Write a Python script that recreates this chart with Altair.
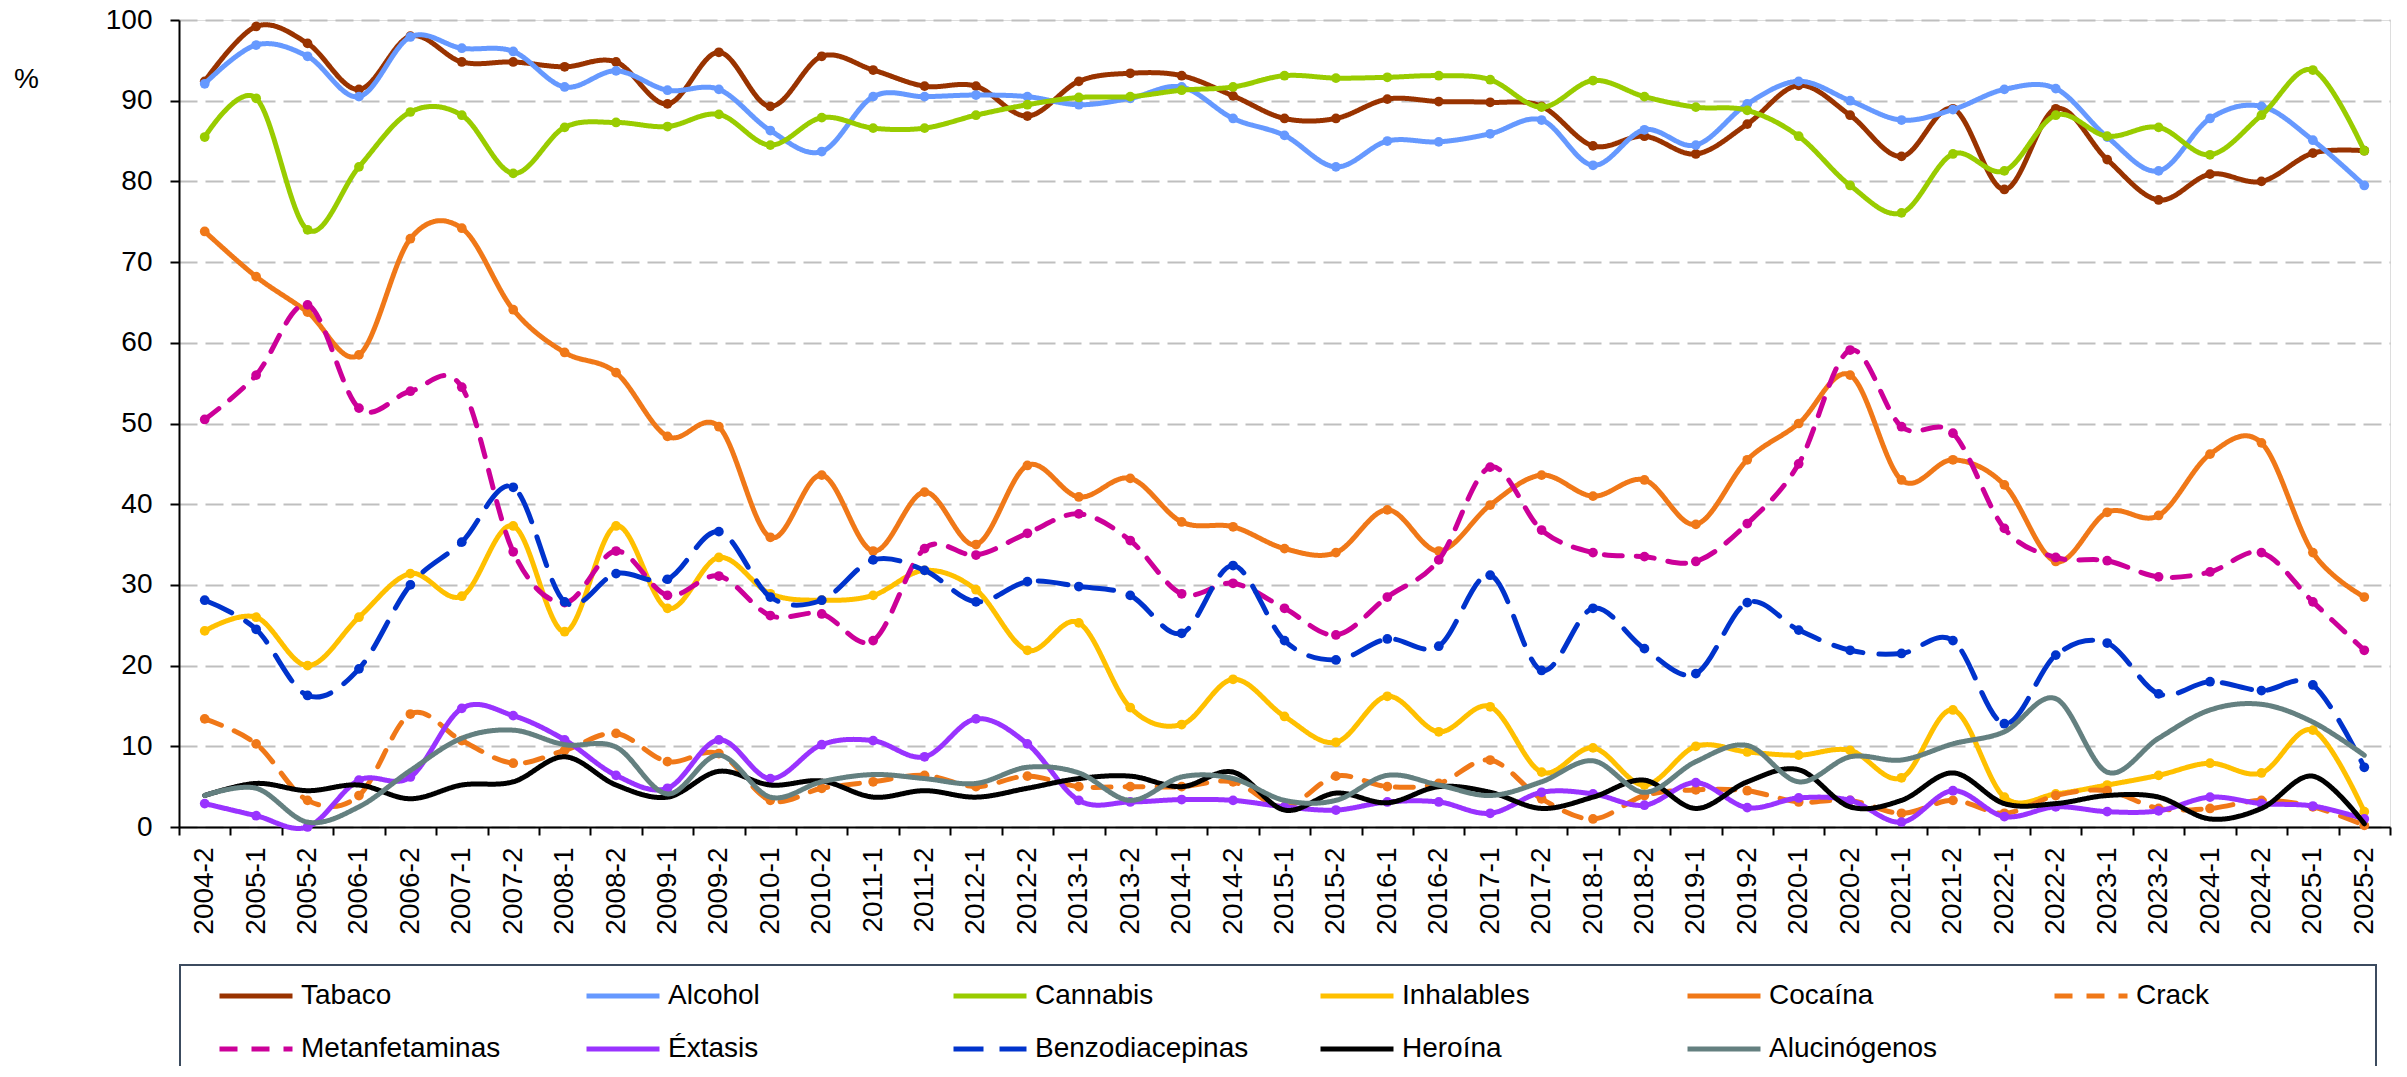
import altair as alt
import pandas as pd

periodos = ["2004-2", "2005-1", "2005-2", "2006-1", "2006-2", "2007-1", "2007-2", "2008-1", "2008-2",
            "2009-1", "2009-2", "2010-1", "2010-2", "2011-1", "2011-2", "2012-1", "2012-2", "2013-1",
            "2013-2", "2014-1", "2014-2", "2015-1", "2015-2", "2016-1", "2016-2", "2017-1", "2017-2",
            "2018-1", "2018-2", "2019-1", "2019-2", "2020-1", "2020-2", "2021-1", "2021-2", "2022-1",
            "2022-2", "2023-1", "2023-2", "2024-1", "2024-2", "2025-1", "2025-2"]

tabaco = [92.4, 99.2, 97.1, 91.4, 98.0, 94.8, 94.8, 94.2, 94.8, 89.6, 96.0, 89.3, 95.5, 93.8, 91.8,
          91.8, 88.1, 92.4, 93.4, 93.1, 90.6, 87.8, 87.8, 90.2, 89.9, 89.8, 89.3, 84.4, 85.6, 83.4,
          87.1, 91.9, 88.2, 83.1, 89.0, 79.0, 89.0, 82.7, 77.7, 80.9, 80.0, 83.5, 83.8]
alcohol = [92.1, 96.9, 95.5, 90.5, 97.9, 96.5, 96.1, 91.7, 93.7, 91.3, 91.4, 86.3, 83.7, 90.5, 90.5,
           90.7, 90.5, 89.5, 90.3, 91.7, 87.8, 85.7, 81.8, 85.0, 84.9, 85.9, 87.6, 82.0, 86.4, 84.5,
           89.6, 92.4, 90.0, 87.6, 88.9, 91.4, 91.5, 85.5, 81.3, 87.8, 89.3, 85.1, 79.5]
cannabis = [85.5, 90.3, 74.0, 81.8, 88.6, 88.2, 81.0, 86.7, 87.3, 86.8, 88.3, 84.5, 87.9, 86.6, 86.6,
            88.2, 89.5, 90.4, 90.5, 91.3, 91.7, 93.1, 92.8, 92.9, 93.1, 92.6, 89.2, 92.5, 90.5, 89.2,
            88.8, 85.6, 79.5, 76.1, 83.4, 81.3, 88.2, 85.6, 86.7, 83.3, 88.2, 93.8, 83.8]
inhalables = [24.3, 26.0, 20.0, 26.0, 31.4, 28.6, 37.3, 24.2, 37.3, 27.1, 33.4, 28.9, 28.1, 28.7, 31.8,
              29.4, 21.9, 25.3, 14.8, 12.7, 18.3, 13.7, 10.5, 16.2, 11.8, 14.9, 6.8, 9.8, 5.2, 10.0,
              9.3, 8.9, 9.5, 6.1, 14.5, 3.7, 4.1, 5.2, 6.4, 7.9, 6.7, 12.0, 1.9]
cocaina = [73.8, 68.2, 63.8, 58.5, 72.9, 74.2, 64.1, 58.8, 56.3, 48.4, 49.6, 35.9, 43.6, 34.2, 41.5,
           35.0, 44.8, 40.9, 43.2, 37.8, 37.2, 34.5, 34.0, 39.3, 34.2, 39.9, 43.6, 41.0, 43.0, 37.5,
           45.5, 50.0, 56.0, 43.0, 45.5, 42.4, 32.9, 39.0, 38.6, 46.2, 47.6, 34.0, 28.5]
crack = [13.4, 10.3, 3.3, 3.9, 14.0, 10.7, 7.9, 9.5, 11.6, 8.1, 9.1, 3.3, 4.8, 5.6, 6.4,
         5.0, 6.3, 5.0, 5.0, 5.0, 5.6, 2.5, 6.3, 5.0, 5.4, 8.3, 3.5, 1.0, 3.9, 4.6,
         4.5, 3.1, 3.3, 1.7, 3.3, 1.7, 3.9, 4.5, 2.3, 2.3, 3.3, 2.5, 0.2]
metanfetaminas = [50.5, 56.0, 64.7, 51.9, 54.0, 54.5, 34.1, 27.8, 34.2, 28.7, 31.1, 26.2, 26.4, 23.1, 34.5,
                  33.7, 36.4, 38.8, 35.5, 28.9, 30.2, 27.1, 23.8, 28.5, 33.1, 44.6, 36.8, 34.0, 33.5, 32.9,
                  37.6, 45.0, 59.1, 49.6, 48.8, 37.0, 33.4, 33.0, 31.0, 31.6, 34.0, 27.9, 21.9]
extasis = [2.9, 1.4, 0.0, 5.8, 6.2, 14.7, 13.8, 10.8, 6.4, 4.8, 10.8, 6.0, 10.2, 10.7, 8.7,
           13.4, 10.3, 3.3, 3.1, 3.4, 3.3, 2.5, 2.1, 3.1, 3.1, 1.7, 4.3, 4.1, 2.7, 5.5,
           2.4, 3.6, 3.3, 0.6, 4.5, 1.3, 2.5, 1.9, 2.0, 3.7, 2.9, 2.6, 1.0]
benzodiacepinas = [28.1, 24.5, 16.3, 19.6, 30.0, 35.3, 42.1, 27.9, 31.4, 30.7, 36.6, 28.5, 28.1, 33.1, 31.8,
                   27.9, 30.4, 29.8, 28.7, 24.0, 32.4, 23.1, 20.7, 23.3, 22.4, 31.2, 19.4, 27.1, 22.1, 19.0,
                   27.8, 24.4, 21.9, 21.5, 23.1, 12.8, 21.3, 22.8, 16.5, 18.0, 16.9, 17.6, 7.4]
heroina = [3.9, 5.4, 4.5, 5.2, 3.5, 5.2, 5.6, 8.7, 5.2, 3.7, 6.9, 5.2, 5.7, 3.7, 4.5,
           3.7, 4.8, 6.0, 6.3, 5.0, 6.8, 2.1, 4.2, 3.0, 5.0, 4.3, 2.3, 3.7, 5.8, 2.3,
           5.6, 7.1, 2.5, 3.3, 6.7, 2.9, 2.9, 3.9, 3.7, 1.0, 2.3, 6.3, 0.4]
alucinogenos = [3.9, 4.8, 0.6, 2.5, 7.0, 11.0, 12.0, 10.2, 9.9, 4.1, 8.9, 3.7, 5.6, 6.5, 6.0,
                5.4, 7.4, 6.7, 3.3, 6.2, 6.0, 3.3, 3.3, 6.4, 5.2, 3.9, 5.6, 8.2, 4.3, 8.1,
                10.1, 5.6, 8.7, 8.3, 10.3, 11.8, 15.9, 6.8, 11.0, 14.5, 15.2, 13.0, 8.9]

series = ["Tabaco", "Alcohol", "Cannabis", "Inhalables", "Cocaína", "Crack",
          "Metanfetaminas", "Éxtasis", "Benzodiacepinas", "Heroína", "Alucinógenos"]
valores = [tabaco, alcohol, cannabis, inhalables, cocaina, crack,
           metanfetaminas, extasis, benzodiacepinas, heroina, alucinogenos]
colores = ["#993300", "#6699FF", "#99CC00", "#FFC000", "#F07818", "#F07818",
           "#CC0099", "#9933FF", "#0033CC", "#000000", "#648080"]
trazos = [[1, 0], [1, 0], [1, 0], [1, 0], [1, 0], [18, 14],
          [18, 14], [1, 0], [30, 16], [1, 0], [1, 0]]
marcadores = [True, True, True, True, True, True, True, True, True, False, False]

filas = []
for s, vals in zip(series, valores):
    for p, v in zip(periodos, vals):
        filas.append({"Periodo": p, "Serie": s, "Valor": v})
df = pd.DataFrame(filas)

FONT = "Liberation Sans"

x_enc = alt.X("Periodo:O", sort=periodos,
              scale=alt.Scale(type="band", domain=periodos, paddingInner=0, paddingOuter=0),
              axis=alt.Axis(title=None, labelAngle=270, tickBand="extent", grid=False,
                            domainColor="#000000", domainWidth=2, tickColor="#000000",
                            tickWidth=2, tickSize=8, labelFontSize=28, labelPadding=12,
                            labelColor="#000000", labelFont=FONT))
y_enc = alt.Y("Valor:Q", scale=alt.Scale(domain=[0, 100], nice=False, zero=True),
              axis=alt.Axis(values=list(range(0, 101, 10)), title="%", titleAngle=0,
                            titleX=-153, titleY=59, titleAlign="center", titleBaseline="middle",
                            titleFontSize=28, titleFontWeight="normal", titleFont=FONT,
                            titleColor="#000000",
                            grid=True, gridColor="#BFBFBF", gridDash=[18, 8], gridWidth=2,
                            domainColor="#000000", domainWidth=2, tickColor="#000000",
                            tickWidth=2, tickSize=9, labelFontSize=28, labelPadding=18,
                            labelColor="#000000", labelFont=FONT))

leyenda = alt.Legend(title=None, orient="none", legendX=38, legendY=937, direction="horizontal",
                     columns=6, columnPadding=61, rowPadding=-19, gridAlign="all", padding=0,
                     symbolType="stroke", symbolSize=5329, symbolStrokeWidth=5,
                     labelFontSize=28, labelFont=FONT, labelColor="#000000", labelOffset=6,
                     labelLimit=500)

color_enc = alt.Color("Serie:N", scale=alt.Scale(domain=series, range=colores), legend=leyenda)
dash_enc = alt.StrokeDash("Serie:N", scale=alt.Scale(domain=series, range=trazos), legend=leyenda)

capas = []
for s, col, mk in zip(series, colores, marcadores):
    base = alt.Chart(df).transform_filter(alt.datum.Serie == s)
    linea = base.mark_line(interpolate="cardinal", strokeWidth=5, strokeCap="round",
                           strokeJoin="round").encode(x=x_enc, y=y_enc, color=color_enc,
                                                      strokeDash=dash_enc)
    capas.append(linea)
    if mk:
        punto = base.mark_circle(size=95, opacity=1, color=col).encode(x=x_enc, y=y_enc)
        capas.append(punto)

marco = alt.Chart(pd.DataFrame({"k": [0]})).mark_rect(
    fill="transparent", stroke="#3C4B5F", strokeWidth=2
).encode(x=alt.value(1), x2=alt.value(2197), y=alt.value(945), y2=alt.value(1400))
capas.append(marco)

chart = alt.layer(*capas).properties(
    width=2211, height=807,
    autosize=alt.AutoSizeParams(type="none"),
    padding={"left": 171, "top": 12, "right": 4, "bottom": 239},
).configure_view(stroke="#BFBFBF", strokeWidth=2).configure(font=FONT)

chart.save("out.html", embed_options={"renderer": "svg", "actions": False})
